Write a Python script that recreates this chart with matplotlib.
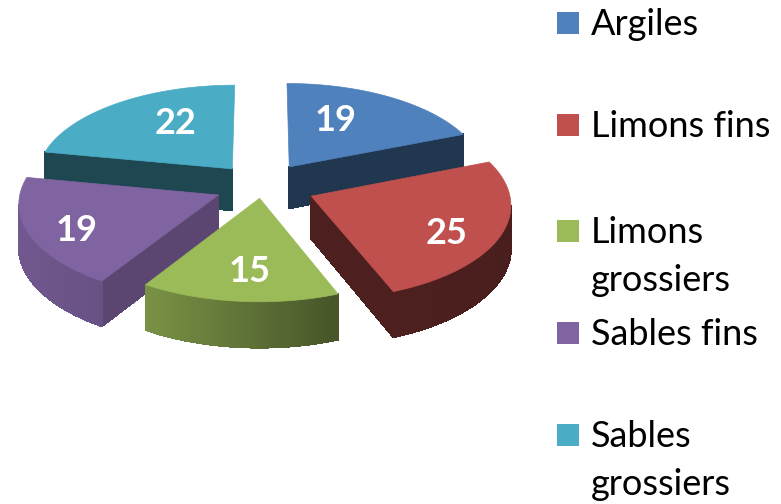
"""Exploded 3D-look pie of soil texture fractions, drawn from the values."""

import matplotlib
matplotlib.use("Agg")
import matplotlib.pyplot as plt
import numpy as np
from matplotlib.patches import Polygon, Rectangle

categories = ["Argiles", "Limons fins", "Limons\ngrossiers", "Sables fins", "Sables\ngrossiers"]
values = [19, 25, 15, 19, 22]
colors = ["#4f81bd", "#c0504d", "#9bbb59", "#8064a2", "#4bacc6"]

# layout, all in pixels of the 781x504 picture
CX, CY = 262, 186
RX, RY = 197, 94
PERSP = 0.08
DEPTH = 42
explode = [0.25, 0.27, 0.13, 0.24, 0.24]
label_ru = [0.46, 0.71, 0.50, 0.75, 0.49]
label_rv = [0.64, 0.96, 0.73, 0.90, 0.67]
radial_shade = [0.42, 0.40, 0.45, 0.70, 0.41]
LEGEND_X, TEXT_X, KEY = 557, 591, 22
legend_y = [12, 114, 220, 322, 424]
LINE_H = 48

SHADE_X = [18, 145, 340, 400, 510]
SHADE_V = [0.88, 0.78, 0.45, 0.40, 0.38]

plt.rcParams["font.family"] = ["Lato", "DejaVu Sans"]


def project(u, v, z=0.0):
    s = 1 + PERSP * v
    return CX + RX * u * s, CY + RY * v * s + DEPTH * s * z


def darker(color, k):
    return tuple(c * k for c in matplotlib.colors.to_rgb(color))


def wedge_outline(a0, a1, off):
    """Apex then arc of one wedge, in ground-plane units, clockwise from the top."""
    ang = np.radians(np.linspace(a0, a1, 60))
    mid = np.radians((a0 + a1) / 2)
    ou, ov = off * np.sin(mid), -off * np.cos(mid)
    return np.r_[ou, ou + np.sin(ang)], np.r_[ov, ov - np.cos(ang)], ou, ov


fig = plt.figure(figsize=(7.81, 5.04), dpi=100)
ax = fig.add_axes([0, 0, 1, 1])
ax.set_xlim(0, 781)
ax.set_ylim(504, 0)
ax.axis("off")

edges = np.cumsum([0] + values) / sum(values) * 360
# painter's order: back wedges first, green in front
for i in [4, 0, 3, 1, 2]:
    a0, a1 = edges[i], edges[i + 1]
    u, v, ou, ov = wedge_outline(a0, a1, explode[i])
    # close the outline so the last radial edge is looked at too
    uc, vc = np.r_[u, u[0]], np.r_[v, v[0]]
    xt, yt = project(uc, vc)
    xb, yb = project(uc, vc, 1.0)
    for j in range(len(uc) - 1):
        radial = j == 0 or j == len(uc) - 2
        # clockwise outline on screen: an edge going left faces the viewer.
        # near-vertical radial edges are seen edge-on, skip those
        if xt[j + 1] - xt[j] >= (-15 if radial else 0):
            continue
        k = radial_shade[i] if radial else np.interp((xt[j] + xt[j + 1]) / 2, SHADE_X, SHADE_V)
        col = darker(colors[i], k)
        quad = [(xt[j], yt[j]), (xt[j + 1], yt[j + 1]), (xb[j + 1], yb[j + 1]), (xb[j], yb[j])]
        # no antialiasing here, otherwise the strips show seams
        ax.add_patch(Polygon(quad, closed=True, facecolor=col, edgecolor=col, lw=0.8,
                             antialiased=False))
    ax.add_patch(Polygon(np.c_[xt, yt], closed=True, facecolor=colors[i], edgecolor=colors[i], lw=0.5))

    mid = np.radians((a0 + a1) / 2)
    lx, ly = project(ou + label_ru[i] * np.sin(mid), ov - label_rv[i] * np.cos(mid))
    ax.text(lx, ly, str(values[i]), color="white", fontsize=26, fontweight="bold",
            ha="center", va="center")

for name, col, y in zip(categories, colors, legend_y):
    ax.add_patch(Rectangle((LEGEND_X, y), KEY, KEY, facecolor=col, edgecolor="none"))
    for n, line in enumerate(name.split("\n")):
        ax.text(TEXT_X, y + 23 + n * LINE_H, line, color="black", fontsize=26,
                ha="left", va="baseline")

fig.savefig("out.png", dpi=100)
